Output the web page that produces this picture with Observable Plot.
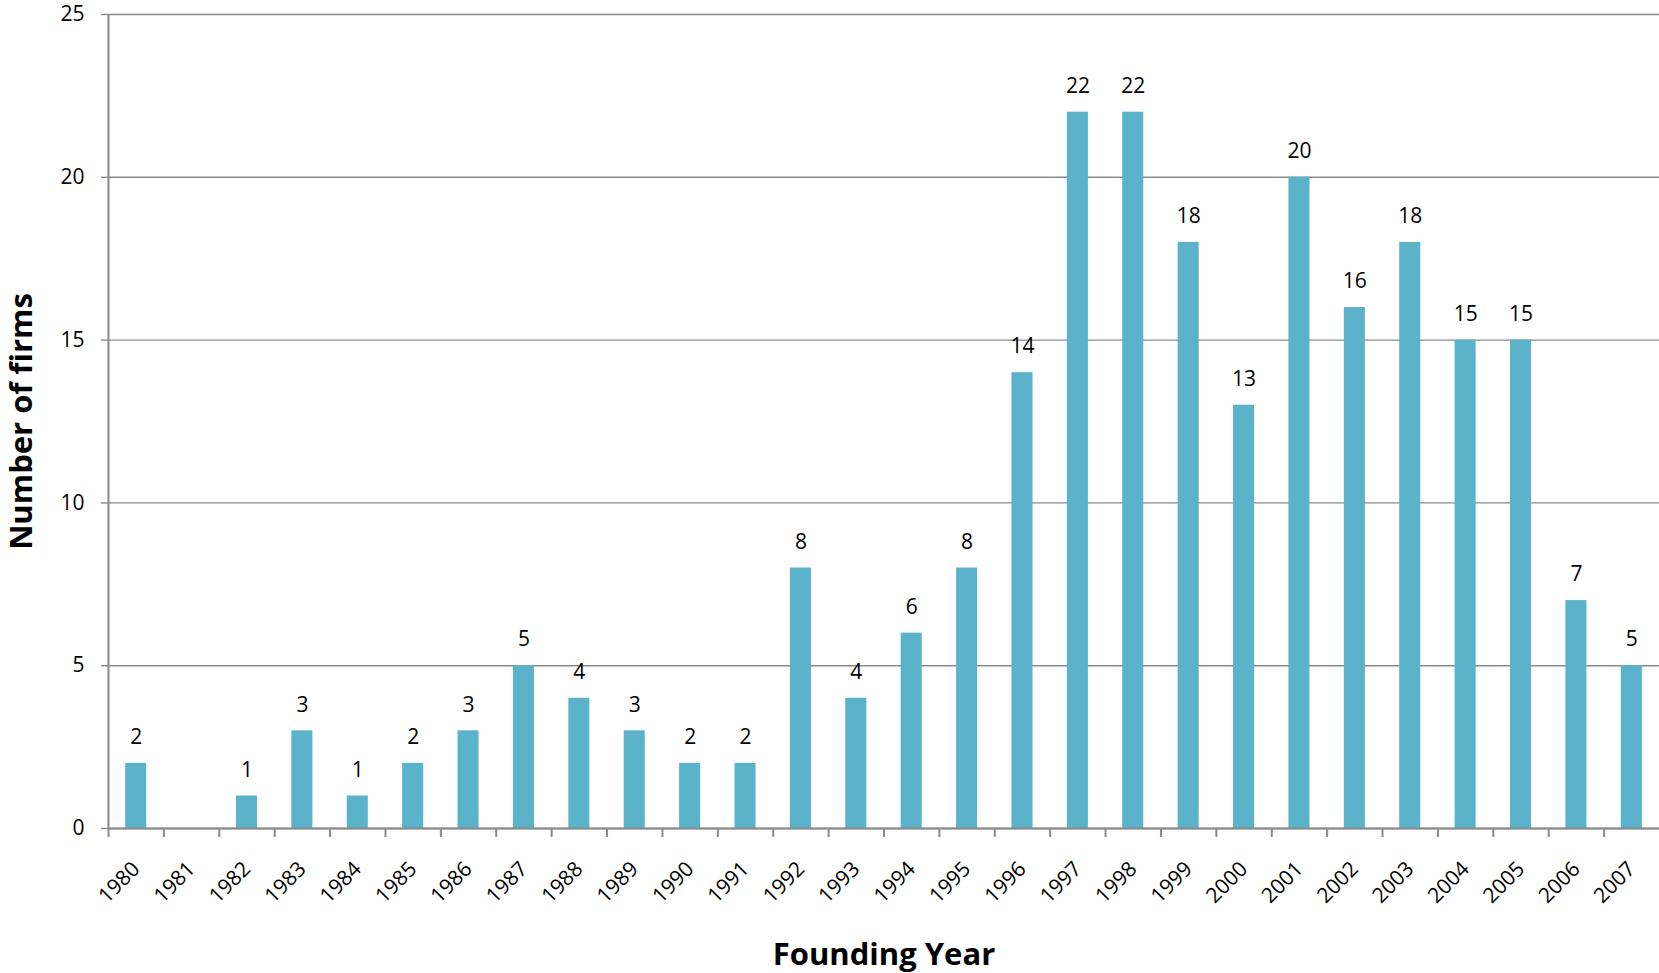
<!DOCTYPE html>
<html><head><meta charset="utf-8">
<script src="https://cdn.jsdelivr.net/npm/d3@7"></script>
<script src="https://cdn.jsdelivr.net/npm/@observablehq/plot@0.6"></script>
<style>html,body{margin:0;padding:0;background:#fff}</style>
</head><body><div id="chart"></div>
<script>
const years = [1980,1981,1982,1983,1984,1985,1986,1987,1988,1989,1990,1991,1992,1993,1994,1995,1996,1997,1998,1999,2000,2001,2002,2003,2004,2005,2006,2007];
const firms = [2,0,1,3,1,2,3,5,4,3,2,2,8,4,6,8,14,22,22,18,13,20,16,18,15,15,7,5];
const yTicks = [0,5,10,15,20,25];
const xTitle = "Founding Year";
const yTitle = "Number of firms";

const data = years.map((y, i) => ({year: String(y), n: firms[i]}));
const W = 1659, H = 973, ML = 108, MR = 0, MT = 14, MB = 145;
const step = (W - ML - MR) / years.length;
const font = "'Open Sans', Lato, sans-serif";
const gray = "#898989";

const chart = Plot.plot({
  width: W, height: H,
  marginLeft: ML, marginRight: MR, marginTop: MT, marginBottom: MB,
  style: {fontFamily: font, background: "#fff", color: "#000"},
  x: {type: "band", domain: years.map(String), paddingInner: 0.62, paddingOuter: 0.31, round: false, axis: null},
  y: {domain: [0, 25], axis: null},
  marks: [
    Plot.gridY(yTicks, {stroke: gray, strokeOpacity: 1, strokeWidth: 1.4}),
    Plot.barY(data, {x: "year", y: "n", fill: "#5bb3cb"}),
    Plot.ruleY([0], {stroke: gray, strokeWidth: 2}),
    Plot.tickX([String(years[0])], {x: d => d, dx: -step / 2, stroke: gray, strokeWidth: 2}),
    Plot.axisX(years.map(String), {tickSize: 9, tickFormat: () => "", dx: -step / 2, stroke: gray, strokeWidth: 2, label: null}),
    Plot.axisX(years.map(String), {tickSize: 0, tickPadding: 37, tickRotate: -45, fontSize: 21, label: null}),
    Plot.axisY(yTicks, {tickSize: 7, tickPadding: 17, fontSize: 21, stroke: gray, strokeWidth: 1.4, label: null}),
    Plot.text(data.filter(d => d.n > 0), {x: "year", y: "n", text: d => String(d.n), dy: -26, fontSize: 21}),
    Plot.text([xTitle], {frameAnchor: "bottom", lineAnchor: "middle", textAnchor: "middle", dy: 127, fontSize: 31, fontWeight: "bold"}),
    Plot.text([yTitle], {frameAnchor: "left", lineAnchor: "middle", textAnchor: "middle", dx: -86, rotate: -90, fontSize: 31, fontWeight: "bold"})
  ]
});
document.getElementById("chart").appendChild(chart);
</script>
</body></html>
